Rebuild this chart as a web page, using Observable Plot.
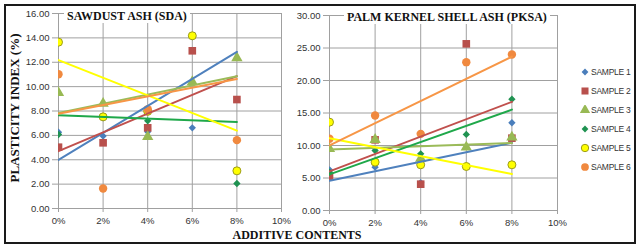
<!DOCTYPE html>
<html>
<head>
<meta charset="utf-8">
<script src="https://cdn.jsdelivr.net/npm/d3@7"></script>
<script src="https://cdn.jsdelivr.net/npm/@observablehq/plot@0.6"></script>
<style>
  html, body { margin: 0; padding: 0; background: #fff; }
  #wrap { position: relative; width: 637px; height: 246px; overflow: hidden; background: #fff; }
  .abs { position: absolute; }
  .frame { left: 4px; top: 4px; width: 632px; height: 240px; box-sizing: border-box; border: 2px solid #1a1a1a; }
  .ttl { font-family: "Liberation Serif", "Times New Roman", serif; font-weight: bold; font-size: 12px; color: #111; background: #fff; padding: 0 3px; line-height: 14px; white-space: nowrap; }
  .axt { font-family: "Liberation Serif", "Times New Roman", serif; font-weight: bold; color: #111; white-space: nowrap; }
  .leg { font-family: "Liberation Sans", Arial, sans-serif; font-size: 8.5px; letter-spacing: -0.25px; color: #333; white-space: nowrap; display: flex; align-items: center; height: 12px; }
  .leg svg { margin-right: 1px; }
</style>
</head>
<body>
<div id="wrap">
  <div id="left" class="abs" style="left:0;top:0"></div>
  <div id="right" class="abs" style="left:270px;top:0"></div>
  <div id="t1" class="abs ttl" style="left:64px;top:9px">SAWDUST ASH (SDA)</div>
  <div id="t2" class="abs ttl" style="left:344px;top:10px">PALM KERNEL SHELL ASH (PKSA)</div>
  <div class="abs axt" style="left:297px;top:228px;font-size:12px;transform:translateX(-50%)">ADDITIVE CONTENTS</div>
  <div class="abs axt" style="left:15px;top:108px;font-size:13px;transform:translate(-50%,-50%) rotate(-90deg)">PLASTICITY INDEX (%)</div>
  <div id="legend" class="abs" style="left:580px;top:66px"></div>
  <div class="abs frame"></div>
</div>
<script>
// Additive contents (%)
const additive = [0, 2, 4, 6, 8];
const xTicks = [0, 2, 4, 6, 8, 10];
const samples = ["SAMPLE 1", "SAMPLE 2", "SAMPLE 3", "SAMPLE 4", "SAMPLE 5", "SAMPLE 6"];

// Sawdust ash (SDA) plasticity index (%)
const sda1 = [6.26, 5.94, 6.29, 6.62, 17.0];
const sda2 = [5.03, 5.39, 6.62, 12.94, 8.94];
const sda3 = [9.49, 8.62, 5.88, 10.39, 12.36];
const sda4 = [6.07, 7.45, 7.19, 14.1, 2.05];
const sda5 = [13.65, 7.52, 7.97, 14.17, 3.09];
const sda6 = [11.02, 1.64, 8.15, 19.6, 5.61];

// Palm kernel shell ash (PKSA) plasticity index (%)
const pksa1 = [6.26, 6.67, 4.3, 6.77, 13.5];
const pksa2 = [5.13, 10.87, 4.05, 25.64, 11.13];
const pksa3 = [9.49, 10.9, 8.0, 9.74, 11.28];
const pksa4 = [5.9, 9.23, 8.72, 11.7, 17.13];
const pksa5 = [13.59, 7.44, 7.03, 6.77, 7.03];
const pksa6 = [11.03, 14.62, 11.79, 22.82, 24.0];

const sdaTicks = [0, 2, 4, 6, 8, 10, 12, 14, 16];
const pksaTicks = [0, 5, 10, 15, 20, 25, 30];

const styles = [
  {symbol: "diamond2", r: 3.3, fill: "#4a7ebb", stroke: "none", line: "#4f81bd"},
  {symbol: "square", r: 4.3, fill: "#b8504c", stroke: "none", line: "#c0504d"},
  {symbol: "triangle", r: 4.2, fill: "#98b954", stroke: "none", line: "#9bbb59"},
  {symbol: "diamond2", r: 3.3, fill: "#1f9251", stroke: "none", line: "#1fa84a"},
  {symbol: "circle", r: 4.0, fill: "#ffff00", stroke: "#9c9c1a", line: "#ffff00"},
  {symbol: "circle", r: 4.2, fill: "#f0893f", stroke: "none", line: "#f79646"}
];

function tidy(series) {
  const rows = [];
  series.forEach((vals, i) => vals.forEach((v, j) => rows.push({sample: samples[i], k: i, x: additive[j], y: v})));
  return rows;
}

function panel(series, yTicks, opts) {
  const data = tidy(series);
  const marks = [
    Plot.gridX(xTicks, {stroke: "#a0a0a0", strokeOpacity: 1}),
    Plot.gridY(yTicks, {stroke: "#a0a0a0", strokeOpacity: 1}),
    Plot.axisY(yTicks, {label: null, tickSize: 6, tickPadding: 3, stroke: "#a0a0a0", fill: "#333", tickFormat: d => d.toFixed(2)}),
    Plot.axisX(xTicks, {label: null, tickSize: 4, tickPadding: 5, stroke: "#a0a0a0", fill: "#333", tickFormat: d => d + "%"})
  ];
  styles.forEach((s, i) => {
    marks.push(Plot.dot(data.filter(d => d.k === i), {x: "x", y: "y", symbol: () => s.symbol, r: s.r, fill: s.fill, stroke: s.stroke, strokeWidth: 1, clip: true}));
  });
  styles.forEach((s, i) => {
    marks.push(Plot.linearRegressionY(data.filter(d => d.k === i), {x: "x", y: "y", stroke: s.line, strokeWidth: 2, ci: 0, clip: true}));
  });
  return Plot.plot({
    width: opts.width, height: opts.height,
    marginLeft: opts.ml, marginRight: opts.mr, marginTop: opts.mt, marginBottom: opts.mb,
    x: {domain: [0, 10], axis: null},
    y: {domain: [yTicks[0], yTicks[yTicks.length - 1]], axis: null},
    symbol: {type: "identity"},
    style: {fontFamily: "'Liberation Sans', Arial, sans-serif", fontSize: "9.5px", background: "transparent", overflow: "visible"},
    marks
  });
}

document.getElementById("left").append(panel([sda1, sda2, sda3, sda4, sda5, sda6], sdaTicks,
  {width: 290, height: 230, ml: 58, mr: 9, mt: 13, mb: 22}));
document.getElementById("right").append(panel([pksa1, pksa2, pksa3, pksa4, pksa5, pksa6], pksaTicks,
  {width: 296, height: 232, ml: 59, mr: 9, mt: 15, mb: 22}));

// Legend
const leg = document.getElementById("legend");
const symGen = {diamond2: d3.symbolDiamond2, square: d3.symbolSquare, triangle: d3.symbolTriangle, circle: d3.symbolCircle};
styles.forEach((s, i) => {
  const row = document.createElement("div");
  row.className = "leg";
  row.style.marginBottom = "7px";
  const size = s.r * s.r * Math.PI * 0.85;
  const path = d3.symbol(symGen[s.symbol], size)();
  row.innerHTML = `<svg width="10" height="10" viewBox="-5 -5 10 10"><path d="${path}" fill="${s.fill}" stroke="${s.stroke}" stroke-width="1"/></svg><span>${samples[i]}</span>`;
  leg.append(row);
});
</script>
</body>
</html>
